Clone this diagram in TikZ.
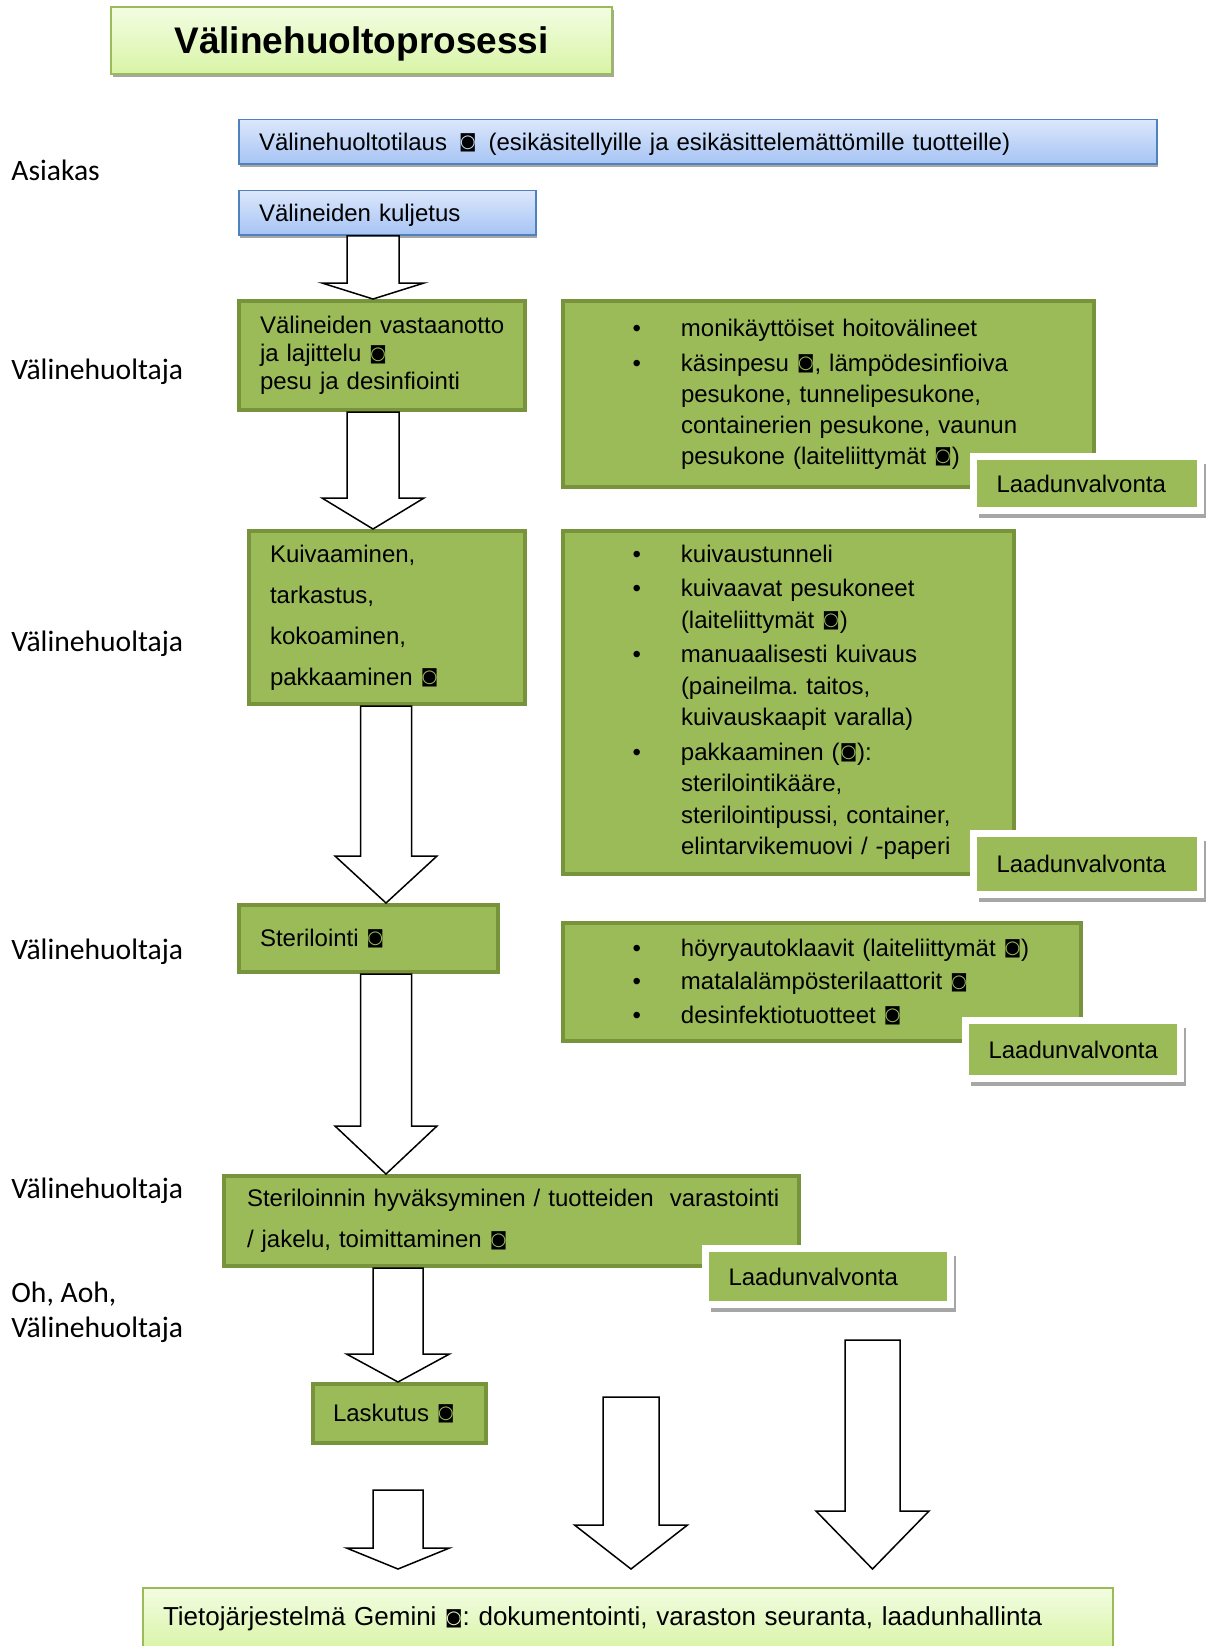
\documentclass[tikz,border=0pt]{standalone}
\usepackage{fontspec}
\setmainfont{Liberation Sans}
\newfontfamily\rolefont{Carlito}
\newfontfamily\symfont{DejaVu Sans}
\usetikzlibrary{calc,shadows}
\frenchspacing

\definecolor{procgreen}{HTML}{9BBB59}
\definecolor{procedge}{HTML}{77933C}
\definecolor{bandedge}{HTML}{4F81BD}
\definecolor{bandtop}{HTML}{DCE7FB}
\definecolor{bandbot}{HTML}{A6C4F4}
\definecolor{titletop}{HTML}{F3FDE2}
\definecolor{titlebot}{HTML}{D8F4A6}
\definecolor{shadowgray}{HTML}{A6A6A6}

\newcommand\inv{\raisebox{1.3pt}{\symfont\fontsize{9}{9}\selectfont ◙}}
\newcommand\bul{\leavevmode\llap{\textbullet\hspace{20pt}}}
% block arrow: top, tip, half shaft, half head, head length
\newcommand\blockarrow[5]{%
  \draw[blockarr] ($(#1)+(-#3,0)$) -- ($(#1)+(#3,0)$) -- ($(#2)+(#3,-#5)$)
    -- ($(#2)+(#4,-#5)$) -- (#2) -- ($(#2)+(-#4,-#5)$) -- ($(#2)+(-#3,-#5)$) -- cycle;}

\begin{document}
\begin{tikzpicture}[
  x=0.5pt, y=-0.5pt,
  font=\fontsize{12}{14}\selectfont,
  indent/.style={execute at begin node={\leftskip=#1\relax}},
  titlebox/.style={draw=procgreen, line width=0.75pt, top color=titletop, bottom color=titlebot,
    general shadow={fill=shadowgray, shadow xshift=1pt, shadow yshift=-1.5pt},
    text depth=0pt, font=\bfseries\fontsize{18.5}{22}\selectfont},
  bandbox/.style={draw=bandedge, line width=0.75pt, top color=bandtop, bottom color=bandbot,
    general shadow={fill=shadowgray, shadow xshift=0.5pt, shadow yshift=-1.5pt},
    inner xsep=0pt, inner ysep=0pt, text depth=0pt, align=left, indent=10pt},
  procbox/.style={draw=procedge, line width=2pt, fill=procgreen,
    inner xsep=0pt, inner ysep=0pt, align=left, indent=10.5pt},
  listbox/.style={procbox, indent=59pt},
  qcbox/.style={draw=white, line width=3.5pt, fill=procgreen,
    general shadow={fill=shadowgray, shadow xshift=2.5pt, shadow yshift=-3.5pt},
    inner xsep=0pt, inner ysep=0pt, align=left, indent=11.5pt},
  infobox/.style={draw=procgreen, line width=0.75pt, top color=titletop, bottom color=titlebot,
    inner xsep=0pt, inner ysep=0pt, align=left, indent=10pt, font=\fontsize{13}{15}\selectfont},
  rolelabel/.style={font=\rolefont\fontsize{14.8}{17.5}\selectfont, anchor=west, inner sep=0pt, align=left},
  blockarr/.style={draw=black, line width=0.75pt, fill=white, line join=miter}
]
  \useasboundingbox (0,0) rectangle (1211,1646);

  % title and order
  \node[titlebox, minimum width=250.5pt, minimum height=33.5pt] (title) at (361.5,40.5) {Välinehuoltoprosessi};
  \node[bandbox, minimum width=459pt, text width=459pt, minimum height=22.25pt] (tilaus) at (698,141.75)
    {Välinehuoltotilaus\ \,\inv\ \,(esikäsitellyille ja esikäsittelemättömille tuotteille)};
  \node[bandbox, minimum width=148.5pt, text width=148.5pt, minimum height=22.25pt] (kuljetus) at (387.5,212.75)
    {Välineiden kuljetus};

  % roles
  \node[rolelabel] (asiakas) at (11,170) {Asiakas};
  \node[rolelabel] (rooli1) at (11,372) {Välinehuoltaja};
  \node[rolelabel] (rooli2) at (11,644) {Välinehuoltaja};
  \node[rolelabel] (rooli3) at (11,952) {Välinehuoltaja};
  \node[rolelabel] (rooli4) at (11,1191) {Välinehuoltaja};
  \node[rolelabel] (rooli5) at (11,1312.5) {Oh, Aoh,\\Välinehuoltaja};

  % process steps
  \node[procbox, minimum width=143pt, text width=143pt, minimum height=54.5pt,
    font=\fontsize{12}{13.9}\selectfont] (vastaanotto) at (382,355.5)
    {Välineiden vastaanotto\\ja lajittelu \inv\\pesu ja desinfiointi};
  \node[procbox, minimum width=138pt, text width=138pt, minimum height=86.5pt,
    font=\fontsize{12}{20.5}\selectfont] (kuivaus) at (387,617.5)
    {Kuivaaminen,\\tarkastus,\\kokoaminen,\\pakkaaminen \inv};
  \node[procbox, minimum width=129.5pt, text width=129.5pt, minimum height=33.5pt] (sterilointi) at (368.5,938.5)
    {Sterilointi \inv};
  \node[procbox, minimum width=287.5pt, text width=287.5pt, minimum height=45pt, indent=11.5pt,
    font=\fontsize{12}{20.5}\selectfont] (hyvaksynta) at (511.5,1221)
    {Steriloinnin hyväksyminen / tuotteiden\ \ varastointi\\/ jakelu, toimittaminen \inv};
  \node[procbox, minimum width=86.5pt, text width=86.5pt, minimum height=29.5pt, indent=10pt] (laskutus) at (399.5,1413.5)
    {Laskutus \inv};

  % equipment lists
  \node[listbox, minimum width=265.5pt, text width=265.5pt, minimum height=93pt,
    font=\fontsize{12}{15.5}\selectfont] (pesulista) at (828.5,394)
    {\bul monikäyttöiset hoitovälineet\\[2pt]
     \bul käsinpesu \inv, lämpödesinfioiva\\pesukone, tunnelipesukone,\\containerien pesukone, vaunun\\pesukone (laiteliittymät \inv)};
  \node[listbox, minimum width=225.5pt, text width=225.5pt, minimum height=171.5pt,
    font=\fontsize{12}{15.75}\selectfont] (kuivauslista) at (788.5,702.5)
    {\bul kuivaustunneli\\[1.5pt]
     \bul kuivaavat pesukoneet\\(laiteliittymät \inv)\\[1.5pt]
     \bul manuaalisesti kuivaus\\(paineilma. taitos,\\kuivauskaapit varalla)\\[1.5pt]
     \bul pakkaaminen (\inv):\\sterilointikääre,\\sterilointipussi, container,\\elintarvikemuovi / -paperi};
  \node[listbox, minimum width=259pt, text width=259pt, minimum height=59pt,
    font=\fontsize{12}{16.75}\selectfont] (sterilointilista) at (822,982)
    {\bul höyryautoklaavit (laiteliittymät \inv)\\
     \bul matalalämpösterilaattorit \inv\\
     \bul desinfektiotuotteet \inv};

  % quality control
  \node[qcbox, minimum width=113.5pt, text width=113.5pt, minimum height=27pt] (laatu1) at (1087,483.5) {Laadunvalvonta};
  \node[qcbox, minimum width=113.5pt, text width=113.5pt, minimum height=30.5pt] (laatu2) at (1087,864) {Laadunvalvonta};
  \node[qcbox, minimum width=107.5pt, text width=107.5pt, minimum height=29pt] (laatu3) at (1073,1049.5) {Laadunvalvonta};
  \node[qcbox, minimum width=122.5pt, text width=122.5pt, minimum height=28pt] (laatu4) at (828,1276.5) {Laadunvalvonta};

  % information system
  \node[infobox, minimum width=485pt, text width=485pt, minimum height=31pt] (gemini) at (628,1619)
    {Tietojärjestelmä Gemini \inv: dokumentointi, varaston seuranta, laadunhallinta};

  % arrows
  \coordinate (c1) at (373,0);
  \coordinate (c3) at (386,0);
  \coordinate (c5) at (398,0);
  \coordinate (a6top) at (398,1490);
  \coordinate (a6tip) at (398,1569);
  \coordinate (a7top) at (631,1397);
  \coordinate (a7tip) at (631,1569);
  \coordinate (a8top) at (872.5,1340);
  \coordinate (a8tip) at (872.5,1569);
  \blockarrow{kuljetus.south -| c1}{vastaanotto.north -| c1}{26}{51}{16}
  \blockarrow{vastaanotto.south -| c1}{kuivaus.north -| c1}{26}{51}{31}
  \blockarrow{kuivaus.south -| c3}{sterilointi.north -| c3}{25.5}{51}{47}
  \blockarrow{sterilointi.south -| c3}{hyvaksynta.north -| c3}{25.5}{51}{48}
  \blockarrow{hyvaksynta.south -| c5}{laskutus.north -| c5}{25}{51.5}{28}
  \blockarrow{a6top}{a6tip}{25}{51.5}{21}
  \blockarrow{a7top}{a7tip}{28}{56.5}{44}
  \blockarrow{a8top}{a8tip}{27.5}{56.5}{58}
\end{tikzpicture}
\end{document}
